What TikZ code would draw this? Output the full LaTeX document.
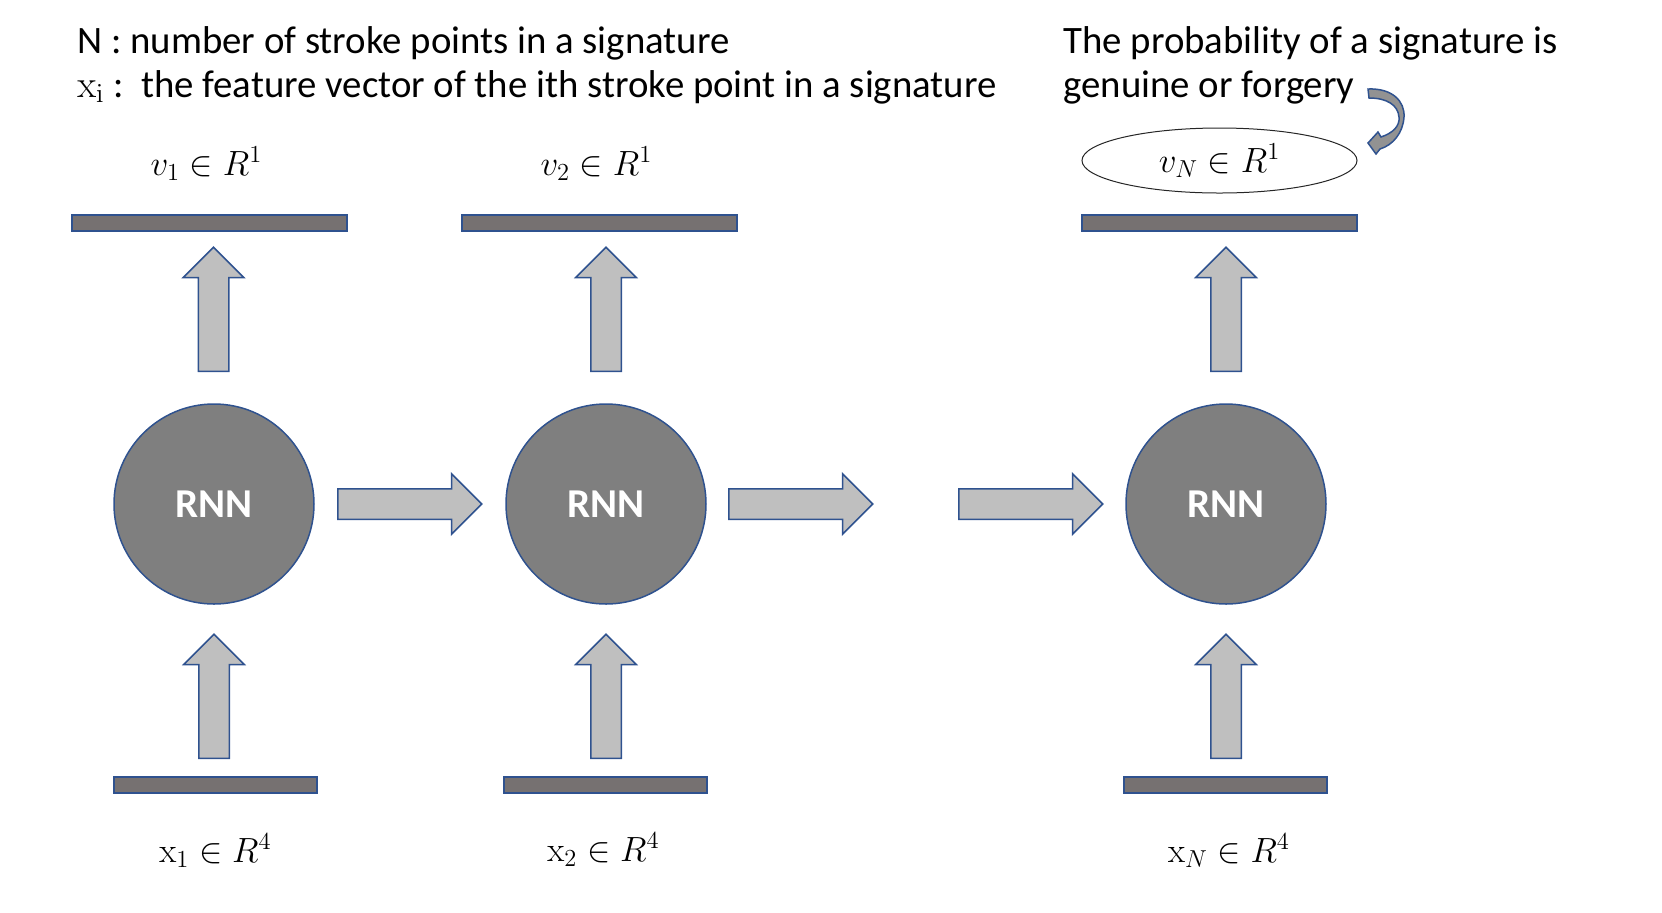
\RequirePackage{fix-cm}
\documentclass[tikz,border=0pt]{standalone}
\usepackage[no-math]{fontspec}
\setmainfont{Carlito}
\usetikzlibrary{shapes.arrows,shapes.geometric}
\definecolor{edgeblue}{HTML}{2F528F}
\definecolor{barfill}{HTML}{767171}
\definecolor{cellfill}{HTML}{7F7F7F}
\definecolor{arrowfill}{HTML}{BFBFBF}
\tikzset{
	rnn/.style={circle, draw=edgeblue, fill=cellfill, line width=0.75pt, minimum size=100pt, inner sep=0pt, text=white, font=\fontsize{20.5}{20.5}\selectfont\bfseries},
	topbar/.style={rectangle, draw=edgeblue, fill=barfill, line width=1pt, minimum width=137.5pt, minimum height=8pt, inner sep=0pt},
	botbar/.style={topbar, minimum width=101.5pt},
	blockarrow/.style={single arrow, draw=edgeblue, fill=arrowfill, line width=0.75pt, inner sep=7.25pt, minimum width=29.5pt, single arrow head extend=7.5pt, minimum height=#1, anchor=tail},
	uparrow/.style={blockarrow=62pt, shape border rotate=90},
	rightarrow/.style={blockarrow=72pt},
	vec/.style={font=\fontsize{17.5}{17.5}\selectfont, inner sep=0pt, anchor=base},
	note/.style={font=\fontsize{19.4}{19.4}\selectfont, inner sep=0pt, anchor=base west}
}
\begin{document}
\begin{tikzpicture}[x=0.5pt, y=-0.5pt]
	\useasboundingbox (0,0) rectangle (1662,912);
	% notes
	\node[note] (noteN) at (77,53) {N : number of stroke points in a signature};
	\node[note] (notex) at (77,97) {$\mathrm{x}_\mathrm{i}$ :\ \ the feature vector of the ith stroke point in a signature};
	\node[note] (prob1) at (1063,53) {The probability of a signature is};
	\node[note] (prob2) at (1063,97) {genuine or forgery};
	% outputs
	\node[vec] (v1) at (206.5,175) {$v_1 \in R^1$};
	\node[vec] (v2) at (596.5,175) {$v_2 \in R^1$};
	\node[ellipse, draw=black!85, line width=0.5pt, minimum width=137.5pt, minimum height=32.5pt, inner sep=0pt, font=\fontsize{17.5}{17.5}\selectfont] (vN) at (1219.5,160.5) {$v_N \in R^1$};
	\node[topbar] (v1bar) at (209.5,223) {};
	\node[topbar] (v2bar) at (599.5,223) {};
	\node[topbar] (vNbar) at (1219.5,223) {};
	% cells
	\node[rnn] (c1) at (214,504) {RNN};
	\node[rnn] (c2) at (606,504) {RNN};
	\node[rnn] (cN) at (1226,504) {RNN};
	\node[uparrow] (o1) at (213.5,372) {};
	\node[uparrow] (o2) at (606,372) {};
	\node[uparrow] (oN) at (1226,372) {};
	\node[rightarrow] (h12) at (337,504) {};
	\node[rightarrow] (h2x) at (728,504) {};
	\node[rightarrow] (hxN) at (958,504) {};
	\node[uparrow] (i1) at (214,759) {};
	\node[uparrow] (i2) at (606,759) {};
	\node[uparrow] (iN) at (1226,759) {};
	% inputs
	\node[botbar] (x1bar) at (215.5,785) {};
	\node[botbar] (x2bar) at (605.5,785) {};
	\node[botbar] (xNbar) at (1225.5,785) {};
	\node[vec] (x1) at (215.5,862) {$\mathrm{x}_1 \in R^4$};
	\node[vec] (x2) at (603.5,861) {$\mathrm{x}_2 \in R^4$};
	\node[vec] (xN) at (1229,862) {$\mathrm{x}_N \in R^4$};
	% curved arrow to the last output
	\filldraw[draw=edgeblue, fill=cellfill!85!white, line width=0.75pt] (1368,89) .. controls (1392,88) and (1405,101) .. (1404,117)
		.. controls (1403,133) and (1393,145) .. (1380,149) -- (1376,154) -- (1368,143) -- (1378,132) -- (1381,137)
		.. controls (1393,133) and (1400,126) .. (1399,117) .. controls (1398,105) and (1387,98) .. (1369,98) -- cycle;
\end{tikzpicture}
\end{document}
